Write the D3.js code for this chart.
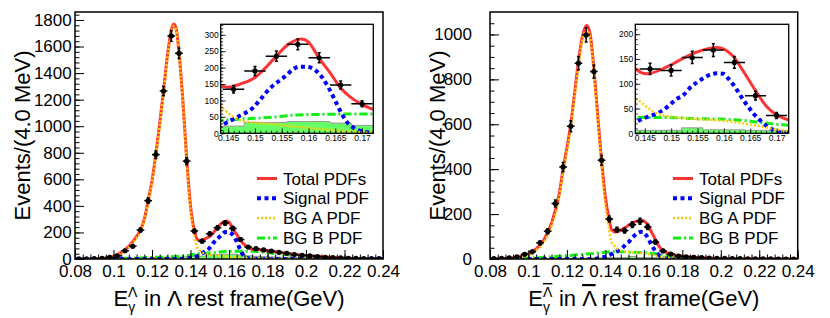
<!DOCTYPE html>
<html>
<head>
<meta charset="utf-8">
<script src="https://cdn.jsdelivr.net/npm/d3@7"></script>
<style>
  body { margin: 0; background: #fff; }
  text { font-family: "Liberation Sans", Arial, Helvetica, sans-serif; }
</style>
</head>
<body>
<script>
// 40 bins of 4 MeV between 0.08 and 0.24 GeV
const binCenters = d3.range(40).map(i => 0.082 + i * 0.004);

// Lambda sample (left)
const lamCounts = [2,2,3,5,13,24,62,96,218,439,786,1265,1680,1549,737,211,134,190,235,271,
                   230,147,90,78,68,60,50,43,33,28,23,18,13,10,8,5,5,3,3,3];
const lamSideband = [0,0,0,0,1,2,3,4,5,7,9,11,13,15,17,20,22,33,33,36,
                     36,31,24,20,18,16,14,12,10,9,8,7,6,5,4,3,3,2,2,1];
const lamTotal = [[0.080,0],[0.090,2],[0.095,6],[0.100,22],[0.104,50],[0.108,95],[0.112,170],[0.114,218],
  [0.116,300],[0.118,440],[0.120,590],[0.122,790],[0.124,1020],[0.126,1270],[0.128,1530],[0.130,1720],
  [0.1312,1770],[0.1325,1740],[0.134,1560],[0.136,1200],[0.138,760],[0.140,400],[0.142,215],[0.1436,147],
  [0.145,140],[0.1472,150],[0.150,170],[0.152,200],[0.154,235],[0.156,268],[0.1587,287],[0.160,278],
  [0.162,228],[0.164,185],[0.166,138],[0.168,108],[0.170,88],[0.172,74],[0.176,69],[0.180,62],[0.185,53],
  [0.190,43],[0.195,34],[0.200,26],[0.205,20],[0.210,15],[0.220,8],[0.230,4],[0.240,2]];
const lamSignal = [[0.080,0],[0.130,0],[0.136,1],[0.139,5],[0.141,12],[0.1438,25],[0.1453,38],[0.1471,53],
  [0.1497,79],[0.1509,101],[0.1528,137],[0.1543,157],[0.1559,177],[0.1571,195],[0.1584,203],[0.1596,203],
  [0.1612,193],[0.1627,167],[0.1637,140],[0.1646,112],[0.1655,82],[0.1665,51],[0.1674,30],[0.1686,15],
  [0.1702,5],[0.1717,2],[0.176,0],[0.240,0]];
const lamBgA = [[0.080,0],[0.095,5],[0.100,20],[0.104,45],[0.108,88],[0.112,160],[0.114,205],[0.116,288],
  [0.118,425],[0.120,575],[0.122,775],[0.124,1005],[0.126,1255],[0.128,1515],[0.130,1705],[0.1312,1755],
  [0.1325,1725],[0.134,1545],[0.136,1185],[0.138,740],[0.140,370],[0.142,165],[0.1436,85],[0.1447,66],
  [0.1459,51],[0.1478,38],[0.1503,32],[0.1534,28],[0.1565,22],[0.1596,17],[0.1627,12],[0.1658,8],
  [0.1689,4],[0.1717,2],[0.180,1],[0.240,0]];
const lamBgB = [[0.080,0],[0.090,1],[0.100,3],[0.110,6],[0.120,12],[0.130,17],[0.138,24],[0.140,30],
  [0.1438,39],[0.147,43],[0.1534,49],[0.1578,56],[0.164,58],[0.1717,59],[0.176,55],[0.180,48],[0.185,40],
  [0.190,33],[0.195,26],[0.200,20],[0.210,12],[0.220,6],[0.230,3],[0.240,1]];

// anti-Lambda sample (right)
const barCounts = [2,3,5,10,21,32,72,124,247,410,591,872,998,835,440,178,130,127,153,168,
                   143,76,36,22,13,10,7,6,4,3,3,2,2,1,1,1,1,0,0,0];
const barSideband = [0,0,0,0,0,1,1,2,2,3,3,4,4,5,5,6,6,6,11,7,
                     7,6,5,4,4,3,3,3,2,2,2,2,1,1,1,1,1,1,0,0];
const barTotal = [[0.080,0],[0.090,3],[0.095,9],[0.100,24],[0.104,45],[0.108,85],[0.112,160],[0.116,290],
  [0.118,400],[0.120,495],[0.122,600],[0.124,740],[0.126,880],[0.128,990],[0.1303,1040],[0.132,1005],
  [0.134,850],[0.136,640],[0.138,440],[0.140,275],[0.142,175],[0.1432,131],[0.1453,120],[0.1494,135],
  [0.1535,158],[0.1577,172],[0.1586,173],[0.1618,155],[0.1637,125],[0.1659,88],[0.1681,54],[0.170,37],
  [0.1723,27],[0.175,20],[0.180,13],[0.187,7],[0.193,4],[0.200,2],[0.220,1],[0.240,0]];
const barSignal = [[0.080,0],[0.132,0],[0.136,2],[0.139,8],[0.141,14],[0.1432,22],[0.1447,30],[0.1466,37],
  [0.1485,47],[0.1497,57],[0.151,69],[0.1523,77],[0.1535,91],[0.1548,102],[0.1561,111],[0.1573,118],
  [0.1586,121],[0.1599,120],[0.1608,111],[0.1618,98],[0.1627,84],[0.1637,67],[0.1646,54],[0.1656,40],
  [0.1668,27],[0.1681,15],[0.1694,7],[0.171,2],[0.175,0],[0.240,0]];
const barBgA = [[0.080,0],[0.095,7],[0.100,20],[0.104,38],[0.108,75],[0.112,148],[0.116,275],[0.118,385],
  [0.120,478],[0.122,583],[0.124,722],[0.126,862],[0.128,972],[0.1303,1022],[0.132,988],[0.134,832],
  [0.136,620],[0.138,415],[0.140,240],[0.142,125],[0.1432,74],[0.1441,64],[0.1453,54],[0.1466,44],
  [0.1482,37],[0.1497,34],[0.1529,30],[0.1561,28],[0.1592,26],[0.1624,22],[0.1656,17],[0.1687,10],
  [0.1719,5],[0.180,1],[0.240,0]];
const barBgB = [[0.080,0],[0.090,1],[0.100,3],[0.110,8],[0.120,15],[0.130,22],[0.138,28],[0.1432,32],
  [0.150,32],[0.1535,30],[0.1573,29],[0.1608,28],[0.1637,26],[0.1668,22],[0.170,18],[0.1723,16],
  [0.176,11],[0.180,7],[0.190,3],[0.200,1],[0.240,0]];

// ticks & labels
const xMajor = [0.08,0.10,0.12,0.14,0.16,0.18,0.20,0.22,0.24];
const xMajorLabels = ["0.08","0.1","0.12","0.14","0.16","0.18","0.2","0.22","0.24"];
const insetXMajor = [0.145,0.150,0.155,0.160,0.165,0.170];
const insetXLabels = ["0.145","0.15","0.155","0.16","0.165","0.17"];
const legendLabels = ["Total PDFs","Signal PDF","BG A PDF","BG B PDF"];

const styles = [
  {stroke:"#ff3333", width:3, dash:null},          // total
  {stroke:"#0000ff", width:4, dash:"4,3.5"},       // signal
  {stroke:"#ffcc00", width:2.5, dash:"2,2"},       // BG A
  {stroke:"#11ee11", width:3, dash:"8,3,2,3"}      // BG B
];

const svg = d3.select("body").append("svg").attr("width", 830).attr("height", 318);
let clipId = 0;

function lineOf(x, y) {
  return d3.line().x(d => x(d[0])).y(d => y(d[1])).curve(d3.curveMonotoneX);
}

function drawContent(g, x, y, p, xr, yr, markR) {
  const id = "clip" + (clipId++);
  g.append("clipPath").attr("id", id).append("rect")
    .attr("x", xr[0]).attr("y", yr[1]).attr("width", xr[1] - xr[0]).attr("height", yr[0] - yr[1]);
  const c = g.append("g").attr("clip-path", `url(#${id})`);

  // sideband histogram
  const edges = p.sideband.map((v, i) => [binCenters[i] - 0.002, v]);
  edges.push([0.24, p.sideband[p.sideband.length - 1]]);
  c.append("path").datum(edges)
    .attr("d", d3.area().x(d => x(d[0])).y0(y(0)).y1(d => y(d[1])).curve(d3.curveStepAfter))
    .attr("fill", "#66ff66");
  c.append("path").datum(edges)
    .attr("d", d3.line().x(d => x(d[0])).y(d => y(d[1])).curve(d3.curveStepAfter))
    .attr("fill", "none").attr("stroke", "#999").attr("stroke-width", 1);

  const curves = [[p.bgB, 3], [p.total, 0], [p.signal, 1], [p.bgA, 2]];
  curves.forEach(([data, si]) => {
    const s = styles[si];
    c.append("path").datum(data).attr("d", lineOf(x, y))
      .attr("fill", "none").attr("stroke", s.stroke).attr("stroke-width", s.width)
      .attr("stroke-dasharray", s.dash);
  });

  // data points
  const pts = p.counts.map((v, i) => ({x: binCenters[i], v: v}))
    .filter(d => d.x > x.domain()[0] && d.x < x.domain()[1]);
  const pg = c.append("g").attr("stroke", "#000").attr("stroke-width", 1.5);
  pts.forEach(d => {
    const e = Math.sqrt(d.v);
    const cx = x(d.x), cy = y(d.v);
    pg.append("line").attr("x1", x(d.x - 0.002)).attr("x2", x(d.x + 0.002)).attr("y1", cy).attr("y2", cy);
    if (e > 0) {
      pg.append("line").attr("x1", cx).attr("x2", cx).attr("y1", y(d.v - e)).attr("y2", y(d.v + e));
      pg.append("line").attr("x1", cx - 1.5).attr("x2", cx + 1.5).attr("y1", y(d.v - e)).attr("y2", y(d.v - e));
      pg.append("line").attr("x1", cx - 1.5).attr("x2", cx + 1.5).attr("y1", y(d.v + e)).attr("y2", y(d.v + e));
    }
    pg.append("circle").attr("cx", cx).attr("cy", cy).attr("r", markR).attr("fill", "#000").attr("stroke", "none");
  });
}

function drawAxes(g, x, y, xr, yr, o) {
  // x axis, ticks pointing up
  const ax = g.append("g").attr("transform", `translate(0,${yr[0]})`);
  ax.call(d3.axisBottom(x).tickValues(o.xMinor).tickSize(-o.minorLen).tickFormat("").tickSizeOuter(0));
  ax.append("g").call(d3.axisBottom(x).tickValues(o.xMajor).tickSize(-o.majorLen).tickPadding(o.xPad)
      .tickFormat((d, i) => o.xLabels[i]).tickSizeOuter(0));
  // y axis, ticks pointing right
  const ay = g.append("g").attr("transform", `translate(${xr[0]},0)`);
  ay.call(d3.axisLeft(y).tickValues(o.yMinor).tickSize(-o.minorLen).tickFormat("").tickSizeOuter(0));
  ay.append("g").call(d3.axisLeft(y).tickValues(o.yMajor).tickSize(-o.majorLen).tickPadding(o.yPad)
      .tickFormat(d3.format("d")).tickSizeOuter(0));
  g.selectAll(".domain").remove();
  g.selectAll(".tick line").attr("stroke", "#000").attr("stroke-width", o.tickW);
  ax.selectAll("text").attr("font-size", o.font).attr("fill", "#000").attr("font-family", null);
  ay.selectAll("text").attr("font-size", o.font).attr("fill", "#000").attr("font-family", null);
  if (o.yScaleX) {
    ay.selectAll(".tick text").each(function() {
      const t = d3.select(this);
      t.attr("transform", `scale(${o.yScaleX},1)`).attr("x", -o.yPad / o.yScaleX);
    });
  }
  g.append("rect").attr("x", xr[0]).attr("y", yr[1]).attr("width", xr[1] - xr[0]).attr("height", yr[0] - yr[1])
    .attr("fill", "none").attr("stroke", "#000").attr("stroke-width", o.frameW);
}

function xTitle(g, cx, bar) {
  const t = g.append("text").attr("x", cx).attr("y", 306).attr("text-anchor", "middle").attr("font-size", 22);
  t.append("tspan").text("E");
  const s = t.append("tspan").attr("font-size", 14).attr("dy", -9).text("Λ");
  t.append("tspan").attr("font-size", 14).attr("dx", -9.3).attr("dy", 15).text("γ");
  t.append("tspan").attr("dx", 2.8).attr("dy", -6).text(" in ");
  const l = t.append("tspan").text("Λ");
  t.append("tspan").text(" rest frame(GeV)");
  if (bar) { s.style("text-decoration", "overline"); l.style("text-decoration", "overline"); }
}

function drawPanel(p) {
  const g = svg.append("g");
  const xr = p.xr, yr = [259, 12];
  const x = d3.scaleLinear().domain([0.08, 0.24]).range(xr);
  const y = d3.scaleLinear().domain([0, p.yMax]).range(yr);
  drawContent(g, x, y, p, xr, yr, 2.6);
  drawAxes(g, x, y, xr, yr, {
    xMajor: xMajor, xLabels: xMajorLabels, xMinor: d3.range(0.08, 0.2401, 0.004),
    yMajor: d3.range(0, p.yMax, 200), yMinor: d3.range(0, p.yMax, p.yMinorStep),
    majorLen: 9, minorLen: 4.5, xPad: 6, yPad: p.yPad, font: 17, tickW: 1, frameW: 1.5, yScaleX: p.yScaleX
  });
  g.append("text").attr("transform", `translate(${p.yTitleX},135.5) rotate(-90)`)
    .attr("text-anchor", "middle").attr("font-size", 22).text("Events/(4.0 MeV)");
  xTitle(g, (xr[0] + xr[1]) / 2, p.bar);

  // legend
  const lg = g.append("g");
  [0, 1, 2, 3].forEach(i => {
    const yy = 178.5 + i * 19.8, s = styles[i];
    lg.append("line").attr("x1", p.legX).attr("x2", p.legX + 20).attr("y1", yy).attr("y2", yy)
      .attr("stroke", s.stroke).attr("stroke-width", s.width).attr("stroke-dasharray", s.dash);
    lg.append("text").attr("x", p.legX + 26).attr("y", yy).attr("dy", "0.36em").attr("font-size", 17)
      .text(legendLabels[i]);
  });

  // inset
  const ins = p.inset;
  const ig = g.append("g");
  ig.append("rect").attr("x", ins.xr[0] - 20).attr("y", ins.yr[1] - 3)
    .attr("width", ins.xr[1] - ins.xr[0] + 24).attr("height", ins.yr[0] - ins.yr[1] + 15).attr("fill", "#fff");
  const ix = d3.scaleLinear().domain(ins.xDom).range(ins.xr);
  const iy = d3.scaleLinear().domain([0, ins.yMax]).range(ins.yr);
  drawContent(ig, ix, iy, p, ins.xr, ins.yr, 2.6);
  drawAxes(ig, ix, iy, ins.xr, ins.yr, {
    xMajor: insetXMajor, xLabels: insetXLabels, xMinor: d3.range(0.144, 0.1721, 0.001),
    yMajor: d3.range(0, ins.yMax, 50), yMinor: d3.range(0, ins.yMax, 10),
    majorLen: 5, minorLen: 2.5, xPad: 1.4, yPad: 2, font: 8.5, tickW: 0.8, frameW: 1.3
  });
}

drawPanel({
  counts: lamCounts, sideband: lamSideband, total: lamTotal, signal: lamSignal, bgA: lamBgA, bgB: lamBgB,
  xr: [75, 383], yMax: 1860, yMinorStep: 40, yPad: 3.3, yTitleX: 30, legX: 257, bar: false,
  inset: {xr: [220.7, 373.3], yr: [133.3, 24.3], xDom: [0.1436, 0.1721], yMax: 332}
});
drawPanel({
  counts: barCounts, sideband: barSideband, total: barTotal, signal: barSignal, bgA: barBgA, bgB: barBgB,
  xr: [490, 797.7], yMax: 1100, yMinorStep: 50, yPad: 18, yTitleX: 445, legX: 673, bar: true,
  inset: {xr: [635.3, 788.7], yr: [133.3, 24.3], xDom: [0.1432, 0.1723], yMax: 220}
});
</script>
</body>
</html>
